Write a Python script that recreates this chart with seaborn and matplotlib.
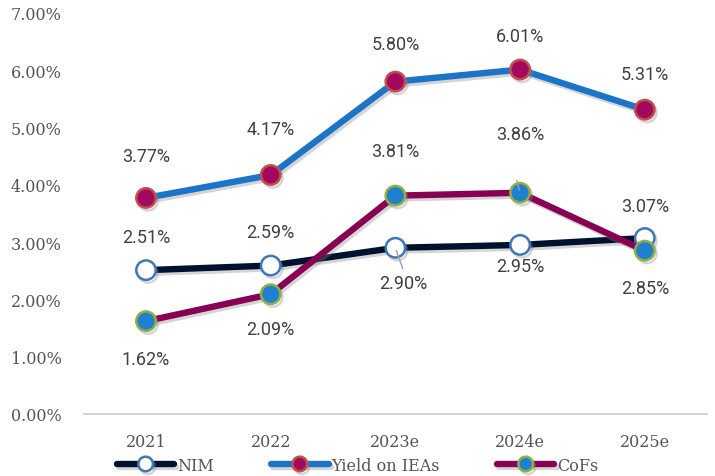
import pandas as pd
import matplotlib.pyplot as plt
import matplotlib.patheffects as pe
import seaborn as sns

# Chart data
years = ['2021', '2022', '2023e', '2024e', '2025e']
nim = [2.51, 2.59, 2.90, 2.95, 3.07]
yield_ieas = [3.77, 4.17, 5.80, 6.01, 5.31]
cofs = [1.62, 2.09, 3.81, 3.86, 2.85]

# label offsets (points) for each series
nim_off = [(0, 24), (0, 24), (6, -25), (0, -15), (0, 23)]
yld_off = [(0, 30), (0, 33), (0, 27), (0, 24), (0, 26)]
cof_off = [(0, -27), (0, -25), (0, 32), (0, 42), (0, -27)]

df = pd.DataFrame({'Year': years, 'NIM': nim, 'Yield on IEAs': yield_ieas, 'CoFs': cofs})

sns.set_style('white')
plt.rcParams['font.family'] = ['DejaVu Serif']

fig, ax = plt.subplots(figsize=(7.15, 4.77), dpi=100)
fig.subplots_adjust(left=0.117, right=0.989, bottom=0.130, top=0.971)

shadow = [pe.SimpleLineShadow(offset=(1.5, -2), shadow_color='#888888', alpha=0.35), pe.Normal()]

series = [
    ('NIM', nim, nim_off, '#00102f', 'white', '#3f77b8'),
    ('Yield on IEAs', yield_ieas, yld_off, '#1c74c9', '#a3085f', '#c0504d'),
    ('CoFs', cofs, cof_off, '#880052', '#1f7fd1', '#8fae45'),
]

for name, vals, offs, lc, fc, ec in series:
    sns.lineplot(data=df, x='Year', y=name, ax=ax, color=lc, linewidth=4.6, label=name,
                 marker='o', markersize=14, markerfacecolor=fc, markeredgecolor=ec,
                 markeredgewidth=1.8, path_effects=shadow, zorder=3)
    for i, v in enumerate(vals):
        ax.annotate(f'{v:.2f}%', (i, v), xytext=offs[i], textcoords='offset points',
                    ha='center', va='center', fontsize=13, color='#404040', family='Roboto')

# leader lines for shifted labels
ax.annotate('', (2, 2.90), xytext=(6, -17), textcoords='offset points',
            arrowprops=dict(arrowstyle='-', color='#a0a0a0', lw=1))
ax.annotate('', (3, 3.86), xytext=(-3, 11), textcoords='offset points',
            arrowprops=dict(arrowstyle='-', color='#a0a0a0', lw=1))

ax.set_xlim(-0.5, 4.5)
ax.set_ylim(0, 7)
ax.set_yticks([0, 1, 2, 3, 4, 5, 6, 7])
ax.set_yticklabels([f'{t:.2f}%' for t in range(8)])
ax.set_xlabel('')
ax.set_ylabel('')
for s in ['top', 'right', 'left']:
    ax.spines[s].set_visible(False)
ax.spines['bottom'].set_color('#c8c8c8')
ax.spines['bottom'].set_linewidth(1.2)
ax.tick_params(axis='both', length=0, labelsize=11.5, labelcolor='#555555')
ax.tick_params(axis='y', pad=16)
ax.tick_params(axis='x', pad=14)

ax.get_legend().remove()
handles, labels = ax.get_legend_handles_labels()
fig.legend(handles, labels, loc='lower center', bbox_to_anchor=(0.5, -0.025), ncol=3,
           frameon=False, fontsize=11.5, handlelength=3.6, handletextpad=0.15,
           columnspacing=3.6, labelcolor='#555555', markerscale=0.75)

plt.savefig('out.png', dpi=100)
